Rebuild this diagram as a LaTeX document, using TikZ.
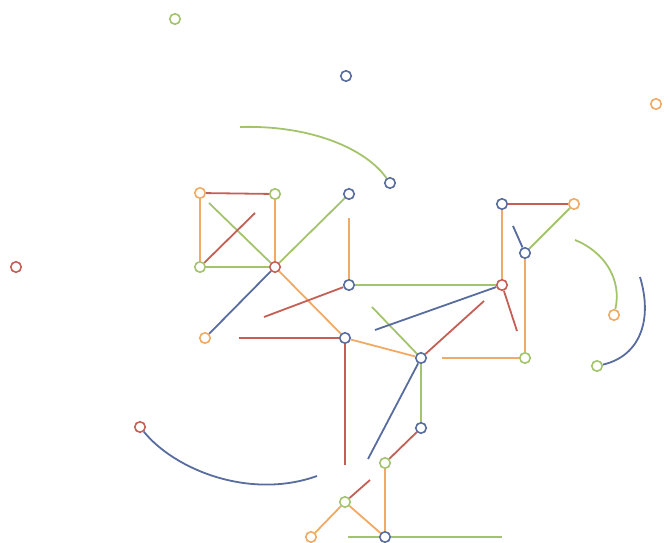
\documentclass[tikz,border=0pt]{standalone}
\definecolor{cg}{RGB}{163,196,108}
\definecolor{co}{RGB}{240,170,100}
\definecolor{cr}{RGB}{196,95,85}
\definecolor{cb}{RGB}{88,108,158}
\tikzset{
  pt/.style={circle,draw=#1,fill=white,line width=1.6pt,inner sep=0pt,minimum size=10.5pt},
  ln/.style={draw=#1,line width=1.8pt},
}
\begin{document}
\begin{tikzpicture}[x=1pt,y=-1pt]
\useasboundingbox (0,0) rectangle (670,543);
% nodes
\node[pt=cg] (g1) at (175,19) {};
\node[pt=cb] (b1) at (346,76) {};
\node[pt=co] (o1) at (656,104) {};
\node[pt=cr] (r1) at (16,267) {};
\node[pt=cb] (b2) at (390,183) {};
\node[pt=co] (sq1) at (200,193) {};
\node[pt=cg] (sq2) at (275,194) {};
\node[pt=cg] (sq3) at (200,267) {};
\node[pt=cr] (c) at (275,267) {};
\node[pt=cb] (b3) at (349,194) {};
\node[pt=cb] (b4) at (349,285) {};
\node[pt=co] (o2) at (205,338) {};
\node[pt=cb] (b5) at (345,338) {};
\node[pt=cb] (b6) at (421,358) {};
\node[pt=cb] (b7) at (502,204) {};
\node[pt=co] (o3) at (574,204) {};
\node[pt=cb] (b8) at (525,253) {};
\node[pt=cr] (r2) at (502,285) {};
\node[pt=cg] (g2) at (525,358) {};
\node[pt=co] (o4) at (614,315) {};
\node[pt=cg] (g3) at (597,366) {};
\node[pt=cr] (r3) at (140,427) {};
\node[pt=cb] (b9) at (421,428) {};
\node[pt=cg] (g4) at (385,463) {};
\node[pt=cg] (g5) at (345,502) {};
\node[pt=co] (o5) at (311,537) {};
\node[pt=cb] (b10) at (385,537) {};
% free ends
\coordinate (e1) at (240,127);
\coordinate (e2) at (209,203);
\coordinate (e3) at (255,213);
\coordinate (e4) at (349,218);
\coordinate (e5) at (264,317);
\coordinate (e6) at (239,338);
\coordinate (e7) at (345,465);
\coordinate (e8) at (372,307);
\coordinate (e9) at (375,330);
\coordinate (e10) at (484,301);
\coordinate (e11) at (517,331);
\coordinate (e12) at (442,358);
\coordinate (e13) at (368,459);
\coordinate (e14) at (370,480);
\coordinate (e15) at (348,537);
\coordinate (e16) at (502,537);
\coordinate (e17) at (317,476);
\coordinate (e18) at (513,226);
\coordinate (e19) at (575,240);
\coordinate (e20) at (640,277);
% edges
\draw[ln=cg] (e1) .. controls (310,125) and (365,148) .. (b2);
\draw[ln=cr] (sq1) -- (sq2);
\draw[ln=co] (sq1) -- (sq3);
\draw[ln=co] (sq2) -- (c);
\draw[ln=cg] (sq3) -- (c);
\draw[ln=cg] (e2) -- (c);
\draw[ln=cr] (sq3) -- (e3);
\draw[ln=cg] (c) -- (b3);
\draw[ln=cb] (c) -- (o2);
\draw[ln=co] (c) -- (b5) -- (b6);
\draw[ln=co] (e4) -- (b4);
\draw[ln=cg] (b4) -- (r2);
\draw[ln=cr] (e5) -- (b4);
\draw[ln=cr] (e6) -- (b5);
\draw[ln=cr] (b5) -- (e7);
\draw[ln=cg] (e8) -- (b6);
\draw[ln=cb] (e9) -- (r2);
\draw[ln=cr] (e10) -- (b6);
\draw[ln=cr] (r2) -- (e11);
\draw[ln=co] (e12) -- (g2);
\draw[ln=cb] (b6) -- (e13);
\draw[ln=cg] (b6) -- (b9);
\draw[ln=cr] (b9) -- (g4);
\draw[ln=co] (g4) -- (b10);
\draw[ln=cr] (g5) -- (e14);
\draw[ln=co] (g5) -- (o5);
\draw[ln=co] (g5) -- (b10);
\draw[ln=cg] (e15) -- (b10) -- (e16);
\draw[ln=cb] (r3) .. controls (175,470) and (250,500) .. (e17);
\draw[ln=cr] (b7) -- (o3);
\draw[ln=co] (b7) -- (r2);
\draw[ln=cb] (e18) -- (b8);
\draw[ln=cg] (o3) -- (b8);
\draw[ln=co] (b8) -- (g2);
\draw[ln=cg] (e19) .. controls (605,252) and (622,280) .. (o4);
\draw[ln=cb] (e20) .. controls (653,320) and (640,356) .. (g3);
\end{tikzpicture}
\end{document}
